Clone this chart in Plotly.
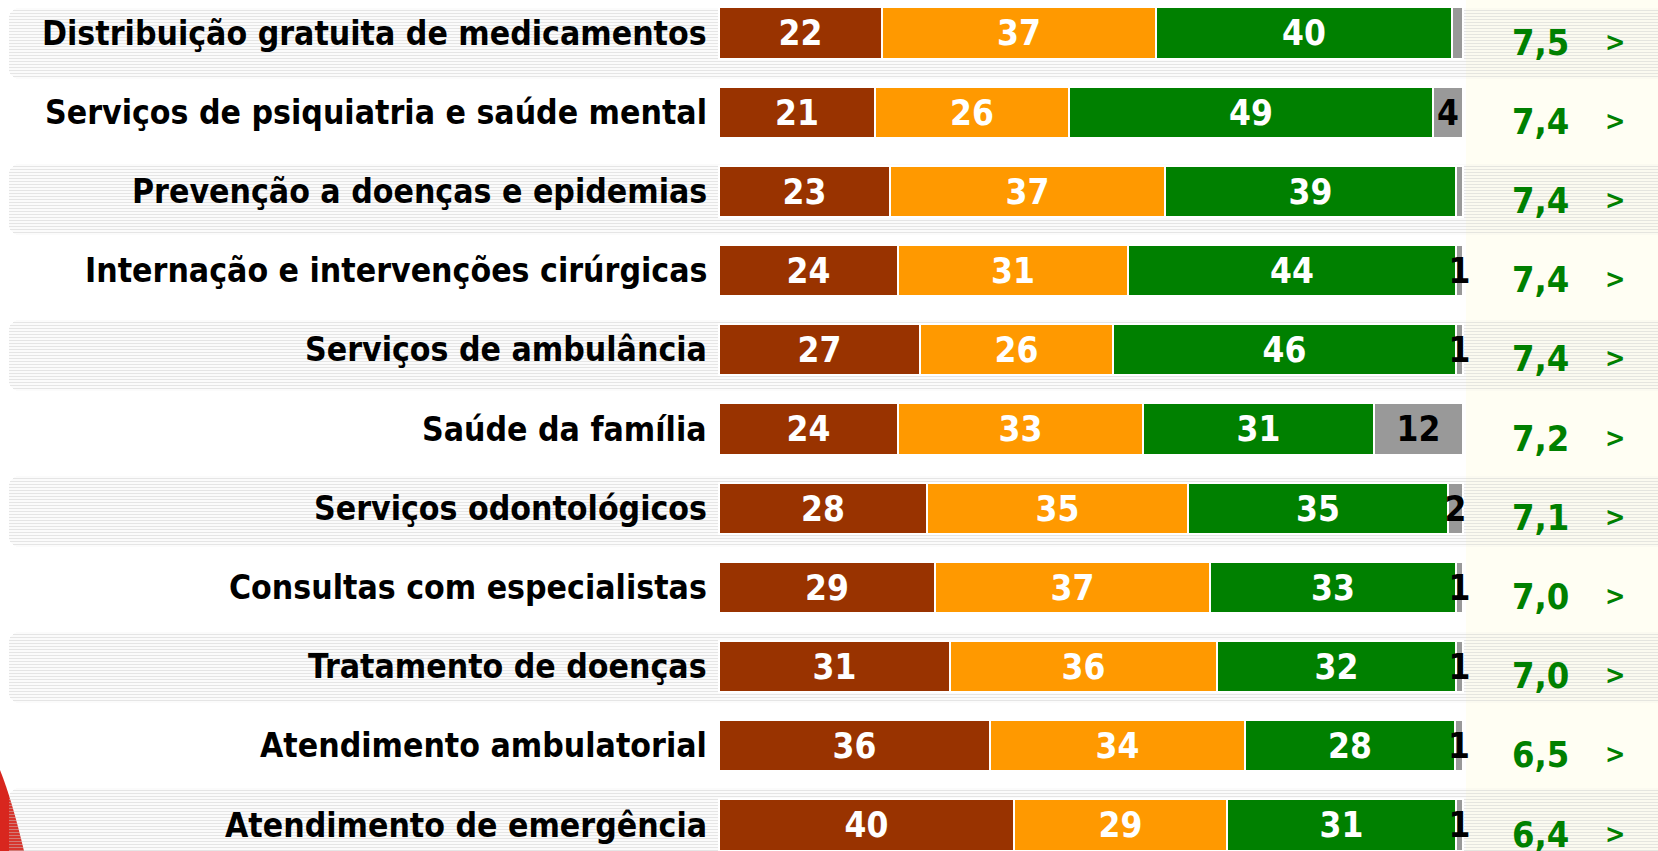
import plotly.graph_objects as go

categories = [
    "Distribuição gratuita de medicamentos",
    "Serviços de psiquiatria e saúde mental",
    "Prevenção a doenças e epidemias",
    "Internação e intervenções cirúrgicas",
    "Serviços de ambulância",
    "Saúde da família",
    "Serviços odontológicos",
    "Consultas com especialistas",
    "Tratamento de doenças",
    "Atendimento ambulatorial",
    "Atendimento de emergência",
]
neg = [22, 21, 23, 24, 27, 24, 28, 29, 31, 36, 40]
mid = [37, 26, 37, 31, 26, 33, 35, 37, 36, 34, 29]
pos = [40, 49, 39, 44, 46, 31, 35, 33, 32, 28, 31]
na = [1.5, 4, 1, 1, 1, 12, 2, 1, 1, 1, 1]
na_text = ["", "4", "", "1", "1", "12", "2", "1", "1", "1", "1"]
scores = ["7,5", "7,4", "7,4", "7,4", "7,4", "7,2", "7,1", "7,0", "7,0", "6,5", "6,4"]

colors = ["#993300", "#FF9900", "#008000", "#999999"]
W, H = 1658, 851
FONT = "DejaVu Sans Condensed, DejaVu Sans, sans-serif"

X0 = 719                # pixel of 0 %
PX = 7.44               # pixels per %
ROW0, ROWSTEP = 33, 79.2
BAND0, BANDSTEP = 43.5, 78

rows = list(range(len(categories)))
totals = [a + b + c + d for a, b, c, d in zip(neg, mid, pos, na)]


def norm(vals):
    return [v / t * 100 for v, t in zip(vals, totals)]


fig = go.Figure()

# striped background bands (alternate rows)
band_rows = rows[::2]
fig.add_trace(go.Bar(
    y=band_rows, x=[W + 100] * len(band_rows), base=[9] * len(band_rows),
    orientation="h", width=0.91, xaxis="x", yaxis="y",
    marker=dict(color="rgba(0,0,0,0)", line=dict(width=0), cornerradius=10,
                pattern=dict(shape="-", fgcolor="#cccccc", bgcolor="rgba(0,0,0,0)",
                             size=3, solidity=0.45)),
    hoverinfo="skip", showlegend=False,
))

series = [neg, mid, pos, na]
texts = [[str(v) for v in neg], [str(v) for v in mid], [str(v) for v in pos], na_text]
tcolors = ["white", "white", "white", "black"]
for vals, txt, col, tc in zip(series, texts, colors, tcolors):
    fig.add_trace(go.Bar(
        y=rows, x=norm(vals), orientation="h", width=0.645,
        xaxis="x2", yaxis="y2",
        marker=dict(color=col, line=dict(color="white", width=2)),
        text=txt, textposition="inside", insidetextanchor="middle",
        textangle=0, constraintext="none",
        textfont=dict(family=FONT, size=35, color=tc, weight="bold"),
        hoverinfo="skip", showlegend=False,
    ))

annotations = []
for i, c in enumerate(categories):
    annotations.append(dict(
        x=0, xref="x2", y=i, yref="y2", text=c, showarrow=False,
        xanchor="right", yanchor="middle", xshift=-10,
        font=dict(family=FONT, size=33.5, color="black", weight="bold"),
    ))
    annotations.append(dict(
        x=1540 / W, xref="paper", y=i, yref="y2", text=scores[i], showarrow=False,
        xanchor="center", yanchor="middle", yshift=-9,
        font=dict(family=FONT, size=36, color="#008000", weight="bold"),
    ))
    annotations.append(dict(
        x=1615 / W, xref="paper", y=i, yref="y2", text=">", showarrow=False,
        xanchor="center", yanchor="middle", yshift=-8,
        font=dict(family=FONT, size=27, color="#008000", weight="bold"),
    ))


def px(x):
    return x / W


def py(y):
    return 1 - y / H


shapes = [
    dict(type="rect", xref="paper", yref="paper", x0=px(1466), x1=1, y0=0, y1=1,
         fillcolor="#FFFEF3", line=dict(width=0), layer="below"),
    dict(type="path", xref="paper", yref="paper", layer="below",
         path=(f"M {px(0)} {py(770)} Q {px(12)} {py(800)} {px(24)} {py(851)} "
               f"L {px(0)} {py(851)} Z"),
         fillcolor="#D8261E", line=dict(width=0)),
]

fig.update_layout(
    width=W, height=H, margin=dict(l=0, r=0, t=0, b=0),
    paper_bgcolor="white", plot_bgcolor="rgba(0,0,0,0)",
    barmode="stack", bargap=0,
    showlegend=False,
    xaxis=dict(range=[0, W], visible=False, fixedrange=True),
    yaxis=dict(range=[(H - BAND0) / BANDSTEP, -BAND0 / BANDSTEP], visible=False,
               fixedrange=True),
    xaxis2=dict(range=[-X0 / PX, (W - X0) / PX], overlaying="x",
                visible=False, fixedrange=True),
    yaxis2=dict(range=[(H - ROW0) / ROWSTEP, -ROW0 / ROWSTEP], overlaying="y",
                visible=False, fixedrange=True),
    annotations=annotations,
    shapes=shapes,
)

fig.write_html(
    "out.html",
    config={"displayModeBar": False},
    post_script="document.body.style.margin='0';document.body.style.overflow='hidden';",
)
